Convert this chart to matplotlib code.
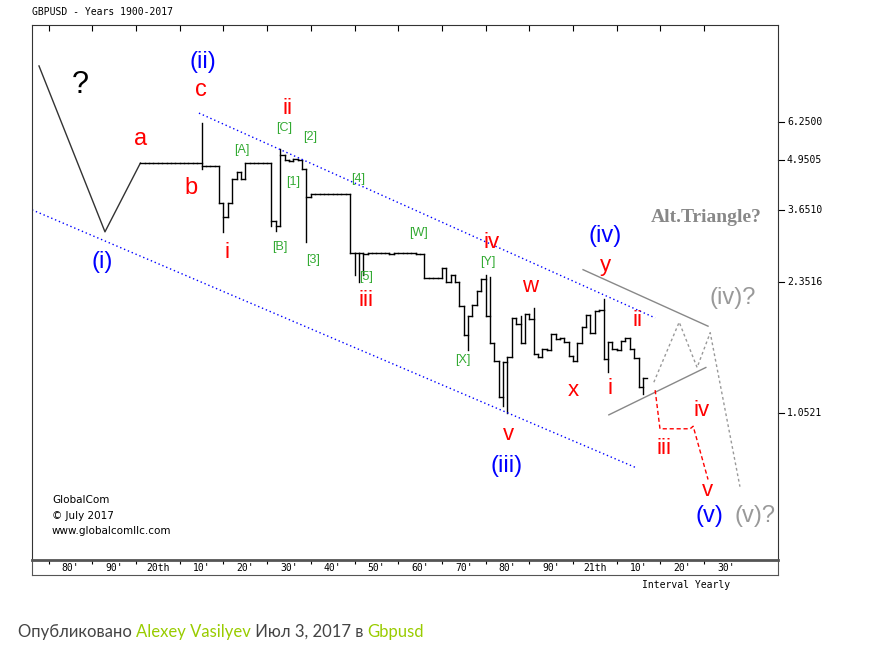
import numpy as np
import matplotlib.pyplot as plt

plt.rcParams['font.family'] = ['Liberation Sans', 'DejaVu Sans']

# ---- data (yearly bars) ----
years = list(range(1901, 2018))
closes = ([4.86] * 14 + [4.76] * 4 + [3.8, 3.5, 3.8, 4.4, 4.6, 4.4, 4.86, 4.86, 4.86, 4.86, 4.86, 4.86,
           3.4, 3.3, 5.1, 4.95, 4.93, 4.97, 4.94, 4.68, 3.95] + [4.03] * 9 +
          [2.8, 2.8, 2.8, 2.79, 2.81, 2.81, 2.8, 2.81, 2.8, 2.79, 2.8, 2.8, 2.8, 2.8, 2.8, 2.79, 2.79,
           2.4, 2.4, 2.4, 2.4, 2.55, 2.35, 2.45, 2.35, 2.02, 1.70, 1.91, 2.04, 2.22, 2.39,
           1.91, 1.61, 1.45, 1.16, 1.44, 1.48, 1.88, 1.81, 1.61, 1.93, 1.87, 1.51, 1.48, 1.56,
           1.55, 1.71, 1.65, 1.66, 1.62, 1.49, 1.45, 1.61, 1.78, 1.92, 1.72, 1.96, 1.98, 1.46,
           1.62, 1.56, 1.55, 1.63, 1.66, 1.56, 1.47, 1.23, 1.30])
highs = {1915: 6.2, 1933: 5.3, 1980: 2.45, 1981: 2.42, 2007: 2.11, 1991: 2.0, 1988: 1.9}
lows = {1915: 4.7, 1920: 3.19, 1931: 3.3, 1932: 3.2, 1939: 3.0, 1949: 2.8, 1950: 2.45,
        1951: 2.35, 1952: 2.45, 1976: 1.55, 1985: 1.05, 1984: 1.1, 2008: 1.35, 2016: 1.18}
pre_years = [1877.8, 1892.9, 1901.0]
pre_prices = [8.81, 3.19, 4.86]

upper_chan = ([1914.4, 2018.8], [6.60, 1.883])
lower_chan = ([1876.2, 2014.6], [3.65, 0.751])
tri_upper = ([2002.3, 2030.9], [2.53, 1.79])
tri_lower = ([2008.2, 2030.4], [1.04, 1.39])
alt_path = ([2018.5, 2024.3, 2028.4, 2031.4, 2038.2], [1.27, 1.835, 1.39, 1.72, 0.67])
red_path = ([2018.8, 2019.9, 2026.8, 2027.5, 2030.9], [1.21, 0.955, 0.955, 0.97, 0.70])

price_ticks = [6.25, 4.9505, 3.651, 2.3516, 1.0521]
price_labels = ["6.2500", "4.9505", "3.6510", "2.3516", "1.0521"]
decade_years = list(range(1880, 2040, 10))
decade_labels = ["80'", "90'", "20th", "10'", "20'", "30'", "40'", "50'", "60'", "70'",
                 "80'", "90'", "21th", "10'", "20'", "30'"]


def px_year(px):
    return 1900 + (px - 136) / 4.37


def px_price(py):
    return 6.25 * np.exp(-(py - 122) / 163.3)


W, H = 881, 651
fig = plt.figure(figsize=(W / 100, H / 100), dpi=100)
ax = fig.add_axes([32 / W, (H - 560) / H, 746 / W, 535 / H])
ax.set_yscale('log')
ax.set_xlim(px_year(32), px_year(778))
ax.set_ylim(px_price(560), px_price(25))
ax.set_yticks([])
ax.minorticks_off()
ax.set_xticks(decade_years)
ax.xaxis.tick_top()
ax.tick_params(axis='x', direction='in', length=4, labeltop=False)
for s in ax.spines.values():
    s.set_color('#333333')

ax.plot(pre_years, pre_prices, color='#333333', lw=1)
prev = closes[0]
for yr, c in zip(years, closes):
    hi = highs.get(yr, max(prev, c))
    lo = lows.get(yr, min(prev, c))
    ax.plot([yr, yr], [lo, hi], color='black', lw=1)
    ax.plot([yr, yr + 1], [c, c], color='black', lw=1)
    prev = c

ax.plot(*upper_chan, color='blue', ls=(0, (1, 2)), lw=1)
ax.plot(*lower_chan, color='blue', ls=(0, (1, 2)), lw=1)
ax.plot(*tri_upper, color='#888888', lw=1)
ax.plot(*tri_lower, color='#888888', lw=1)
ax.plot(*alt_path, color='#999999', ls=(0, (2, 2)), lw=1)
ax.plot(*red_path, color='red', ls=(0, (3, 2)), lw=1)

for p, lab in zip(price_ticks, price_labels):
    ax.text(1.012, p, lab, transform=ax.get_yaxis_transform(),
            va='center', ha='left', fontsize=7, family='DejaVu Sans Mono')
    ax.plot([1.0, 1.008], [p, p], transform=ax.get_yaxis_transform(), color='black', lw=0.8, clip_on=False)

blue, red, green, gray = 'blue', 'red', '#33aa33', '#999999'
labels = [
    (80, 85, "?", 'black', 22), (102, 262, "(i)", blue, 17), (203, 62, "(ii)", blue, 17),
    (201, 90, "c", red, 17), (141, 139, "a", red, 17), (191, 188, "b", red, 17),
    (227, 253, "i", red, 16), (287, 108, "ii", red, 16), (284, 128, "[C]", green, 9),
    (310, 137, "[2]", green, 9), (242, 150, "[A]", green, 9), (293, 182, "[1]", green, 9),
    (280, 247, "[B]", green, 9), (313, 260, "[3]", green, 9), (358, 179, "[4]", green, 9),
    (366, 277, "[5]", green, 9), (366, 300, "iii", red, 16), (418, 233, "[W]", green, 9),
    (492, 243, "iv", red, 16), (488, 262, "[Y]", green, 9), (463, 360, "[X]", green, 9),
    (530, 286, "w", red, 16), (605, 236, "(iv)", blue, 17), (605, 266, "y", red, 16),
    (637, 320, "ii", red, 16), (573, 390, "x", red, 16), (610, 388, "i", red, 16),
    (508, 435, "v", red, 16), (507, 466, "(iii)", blue, 17), (664, 449, "iii", red, 16),
    (702, 410, "iv", red, 16), (707, 490, "v", red, 16), (709, 516, "(v)", blue, 17),
    (755, 516, "(v)?", gray, 17), (733, 298, "(iv)?", gray, 17),
]
for x, y, t, c, s in labels:
    ax.text(px_year(x), px_price(y), t, color=c, fontsize=s, ha='center', va='center')
ax.text(px_year(706), px_price(218), "Alt.Triangle?", color='#888888', fontsize=14,
        family='Liberation Serif', weight='bold', ha='center', va='center')
for y, t in [(500, "GlobalCom"), (516, "© July 2017"), (531, "www.globalcomllc.com")]:
    ax.text(px_year(52), px_price(y), t, fontsize=7.5, ha='left', va='center', family='Liberation Sans Narrow')

# ---- bottom year strip ----
sx = fig.add_axes([32 / W, (H - 575) / H, 746 / W, 15 / H])
sx.set_xlim(ax.get_xlim())
sx.set_ylim(0, 1)
sx.set_yticks([])
sx.set_xticks(decade_years)
sx.tick_params(axis='x', direction='in', length=3, labelbottom=False)
sx.xaxis.tick_top()
for yr, lab in zip(decade_years, decade_labels):
    sx.text(yr + 5, 0.45, lab, fontsize=7, ha='center', va='center', family='DejaVu Sans Mono')
for s in sx.spines.values():
    s.set_color('#555555')
sx.spines['top'].set_linewidth(2)

fig.text(32 / W, 1 - 12 / H, "GBPUSD - Years 1900-2017", fontsize=7, family='DejaVu Sans Mono', va='center')
fig.text(642 / W, 1 - 585 / H, "Interval Yearly", fontsize=7, family='DejaVu Sans Mono', va='center')

t1 = fig.text(18 / W, 1 - 632 / H, "Опубликовано ", fontsize=12, family='Lato', color='#444444', va='center')
fig.canvas.draw()
x0 = t1.get_window_extent().x1
parts = [("Alexey Vasilyev", '#99cc00'), (" Июл 3, 2017 в ", '#444444'), ("Gbpusd", '#99cc00')]
for t, c in parts:
    tt = fig.text(x0 / W, 1 - 632 / H, t, fontsize=12, family='Lato', color=c, va='center')
    fig.canvas.draw()
    x0 = tt.get_window_extent().x1

fig.savefig('out.png', dpi=100)
